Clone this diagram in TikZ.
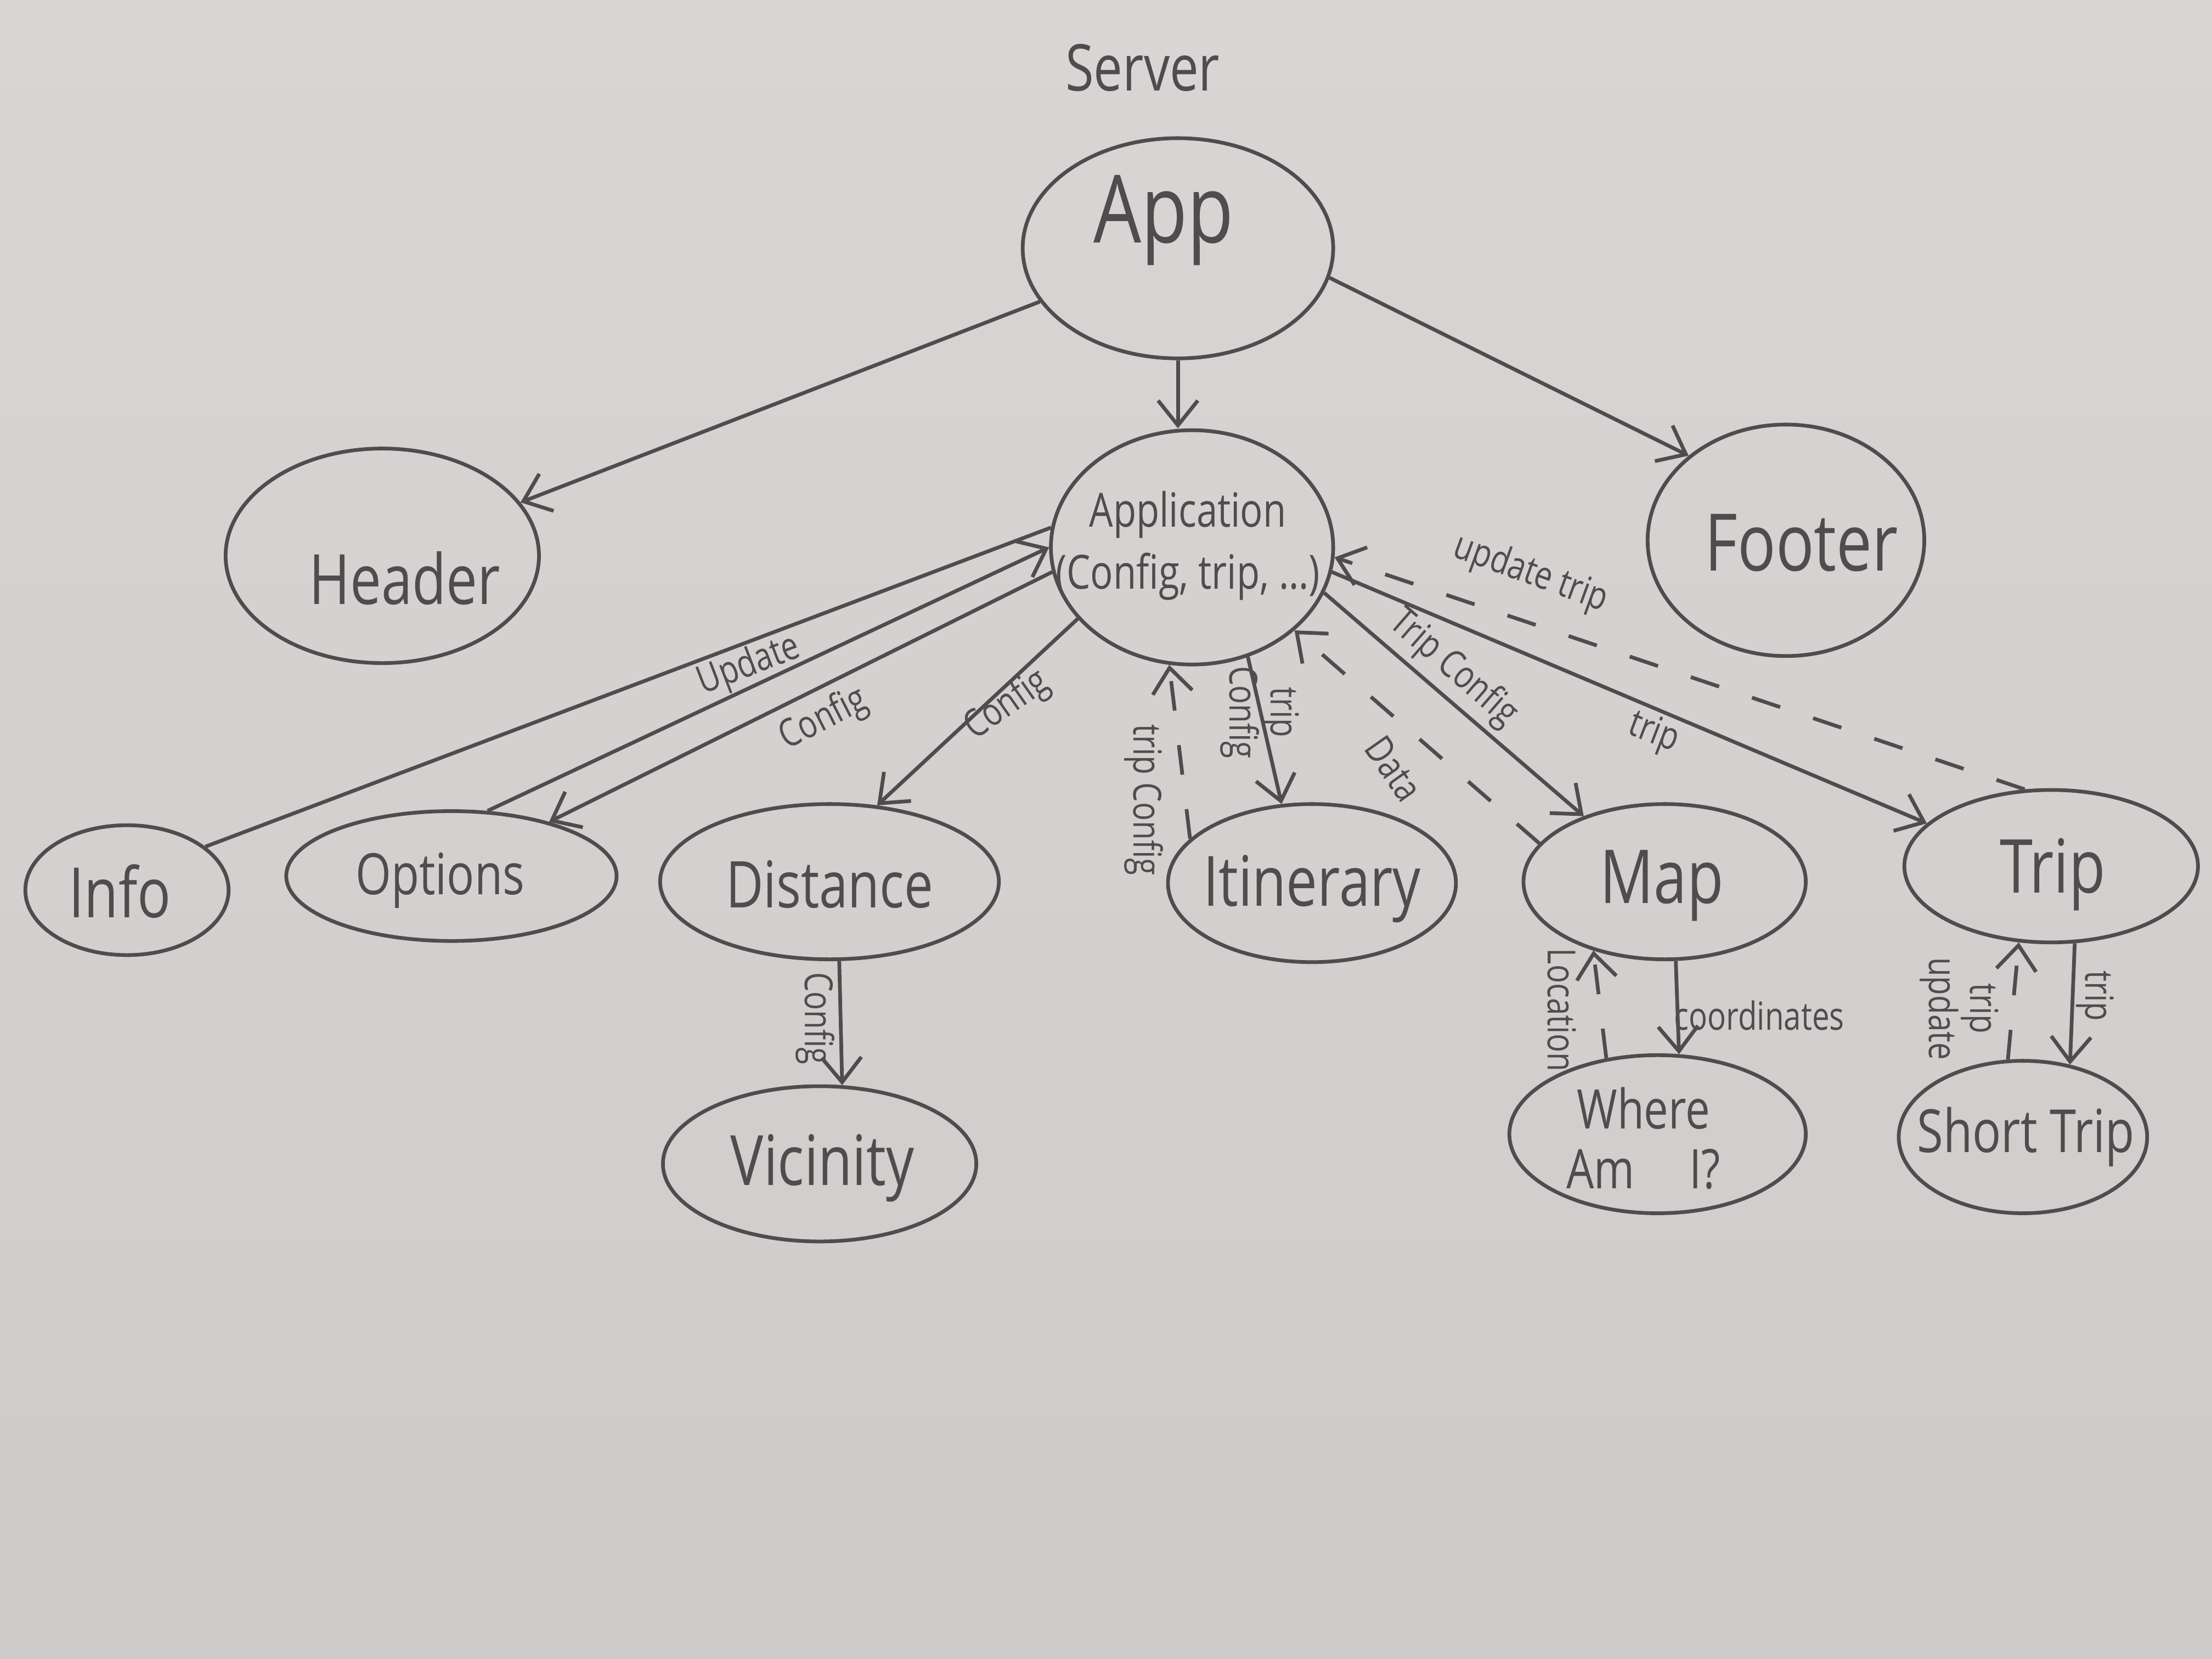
\documentclass[tikz,border=0pt]{standalone}
\usepackage{fontspec}
\setmainfont{Open Sans}[FakeStretch=0.8]
\usetikzlibrary{shapes.geometric,arrows.meta}
\definecolor{papertop}{RGB}{215,214,212}
\definecolor{paperbot}{RGB}{205,204,202}
\definecolor{ink}{RGB}{78,76,76}
\newcommand\fsz[2]{\fontsize{#1}{#2}\selectfont}
\tikzset{
  ell/.style={draw=ink, line width=0.75pt, ellipse, inner sep=0pt},
  txt/.style={text=ink, inner sep=1pt, align=center},
  plainline/.style={draw=ink, line width=0.75pt},
  arr/.style={draw=ink, line width=0.75pt, -{Straight Barb[length=5pt,width=8pt]}},
  dsh/.style={arr, dash pattern=on 6pt off 7pt},
  lbl/.style={text=ink, inner sep=0.5pt, align=center, font=\fsz{7.8}{8.3}}
}
\begin{document}
\begin{tikzpicture}[x=0.01cm,y=-0.01cm]
\shade[top color=papertop, bottom color=paperbot] (0,0) rectangle (1568,1176);
\useasboundingbox (0,0) rectangle (1568,1176);

% title
\node[txt, font=\fsz{13}{15}] (server) at (810,48) {Server};

% nodes
\node[ell, minimum width=2.20cm, minimum height=1.56cm] (app) at (835,176) {};
\node[txt, font=\fsz{19}{22}] (app-t) at (825,156) {App};

\node[ell, minimum width=2.00cm, minimum height=1.66cm] (application) at (845,388) {};
\node[txt, font=\fsz{9.5}{12.5}] (application-t) at (842,387) {Application\\(Config, trip, ...)};

\node[ell, minimum width=2.22cm, minimum height=1.52cm] (header) at (271,394) {};
\node[txt, font=\fsz{14}{16}] (header-t) at (287,410) {Header};

\node[ell, minimum width=1.96cm, minimum height=1.64cm] (footer) at (1266,383) {};
\node[txt, font=\fsz{16}{18}] (footer-t) at (1277,385) {Footer};

\node[ell, minimum width=1.44cm, minimum height=0.92cm] (info) at (90,631) {};
\node[txt, font=\fsz{14}{16}] (info-t) at (85,632) {Info};

\node[ell, minimum width=2.34cm, minimum height=0.92cm] (options) at (320,621) {};
\node[txt, font=\fsz{11.5}{13}] (options-t) at (312,624) {Options};

\node[ell, minimum width=2.40cm, minimum height=1.10cm] (distance) at (588,625) {};
\node[txt, font=\fsz{13}{15}] (distance-t) at (588,627) {Distance};

\node[ell, minimum width=2.04cm, minimum height=1.12cm] (itinerary) at (930,626) {};
\node[txt, font=\fsz{14}{16}] (itinerary-t) at (930,630) {Itinerary};

\node[ell, minimum width=2.00cm, minimum height=1.10cm] (map) at (1180,625) {};
\node[txt, font=\fsz{15}{17}] (map-t) at (1178,628) {Map};

\node[ell, minimum width=2.08cm, minimum height=1.08cm] (trip) at (1454,614) {};
\node[txt, font=\fsz{15}{17}] (trip-t) at (1455,620) {Trip};

\node[ell, minimum width=2.22cm, minimum height=1.10cm] (vicinity) at (581,825) {};
\node[txt, font=\fsz{14}{16}] (vicinity-t) at (583,828) {Vicinity};

\node[ell, minimum width=2.10cm, minimum height=1.12cm] (where) at (1175,804) {};
\node[txt, font=\fsz{11}{12}] (where-t) at (1165,807) {Where\\Am\quad I?};

\node[ell, minimum width=1.76cm, minimum height=1.08cm] (short) at (1434,806) {};
\node[txt, font=\fsz{12}{14}] (short-t) at (1436,806) {Short Trip};

% connectors
\draw[arr] (app) -- (header);
\draw[arr] (app.south) -- (app.south |- application.north);
\draw[arr] (app.-11) -- (footer.139);

\draw[plainline] (info.29) -- (application.172);
\draw[arr] (options.61) -- (application.180);
\draw[arr] (application.190) -- (options.29);
\draw[arr] (application.212) -- (distance.58);
\draw[dsh] (itinerary.160) -- (application.259);
\draw[arr] (application.-63) -- (itinerary.111);
\draw[dsh] (map.163) -- (application.-39);
\draw[arr] (application.-19) -- (map.141);
\draw[arr] (application.-10) -- (trip.161);
\draw[dsh] (trip.109) -- (application.-4);

\draw[arr] (distance.-83) -- (vicinity.74);
\draw[arr] (map.-82) -- (where.75);
\draw[dsh] (where.124) -- (map.224);
\draw[arr] (trip.-73) -- (short.57);
\draw[dsh] (short.101) -- (trip.247);

% connector labels
\node[lbl, rotate=21] (l-update) at (531,472) {Update};
\node[lbl, rotate=27] (l-config1) at (584,510) {Config};
\node[lbl, rotate=35] (l-config2) at (714,500) {Config};
\node[lbl, rotate=-90] (l-tripconfig1) at (811,567) {trip Config};
\node[lbl, rotate=-90] (l-tripconfig2) at (893,505) {trip\\Config};
\node[lbl, rotate=-55] (l-data) at (988,545) {Data};
\node[lbl, rotate=-41] (l-tripconfig3) at (1030,474) {Trip Config};
\node[lbl, rotate=-21] (l-trip1) at (1172,520) {trip};
\node[lbl, rotate=-20] (l-updatetrip) at (1085,407) {update trip};
\node[lbl, rotate=-90] (l-config3) at (578,722) {Config};
\node[lbl] (l-coord) at (1247,720) {coordinates};
\node[lbl, rotate=-90] (l-location) at (1107,716) {Location};
\node[lbl, rotate=-90] (l-trip2) at (1485,706) {trip};
\node[lbl, rotate=-90] (l-tripupdate) at (1389,715) {trip\\update};
\end{tikzpicture}
\end{document}
